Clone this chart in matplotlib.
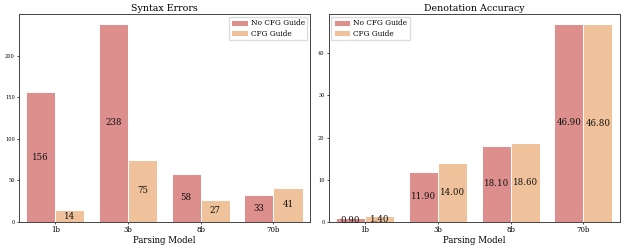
import matplotlib
matplotlib.use("Agg")
import matplotlib.pyplot as plt
import numpy as np

plt.rcParams['font.family'] = 'DejaVu Serif'

# Data
models = ['1b', '3b', '8b', '70b']
series = ['No CFG Guide', 'CFG Guide']
syntax_errors = {
    'No CFG Guide': [156, 238, 58, 33],
    'CFG Guide': [14, 75, 27, 41],
}
accuracy = {
    'No CFG Guide': [0.90, 11.90, 18.10, 46.90],
    'CFG Guide': [1.40, 14.00, 18.60, 46.80],
}
colors = ['#dc8f8c', '#efc29b']

fig, (ax1, ax2) = plt.subplots(1, 2, figsize=(6.26, 2.48), dpi=100)
fig.subplots_adjust(left=0.03, right=0.99, top=0.943, bottom=0.105, wspace=0.065)


def draw(ax, data, title, fmt, legend_loc):
    x = np.arange(len(models))
    w = 0.4
    for i, name in enumerate(series):
        bars = ax.bar(x + (i - 0.5) * w, data[name], w, color=colors[i],
                      edgecolor='white', linewidth=0.7, label=name)
        ax.bar_label(bars, labels=[fmt.format(v) for v in data[name]],
                     label_type='center', fontsize=6.2, color='#111111')
    ax.set_xlim(-0.5, len(models) - 0.5)
    ax.set_xticks(x)
    ax.set_xticklabels(models, fontsize=5)
    ax.tick_params(axis='y', labelsize=3.6)
    ax.tick_params(length=1.5, width=0.5, pad=1.5)
    ax.set_title(title, fontsize=6.8, pad=2.5)
    ax.set_xlabel('Parsing Model', fontsize=6.2, labelpad=1)
    for s in ax.spines.values():
        s.set_color('#444444')
        s.set_linewidth(0.7)
    ax.legend(loc=legend_loc, fontsize=5.3, handlelength=2.2, handleheight=0.9,
              handletextpad=0.4, borderpad=0.35, borderaxespad=0.35,
              labelspacing=0.35, framealpha=1,
              fancybox=False, edgecolor='#dddddd')


draw(ax1, syntax_errors, 'Syntax Errors', '{:d}', 'upper right')
draw(ax2, accuracy, 'Denotation Accuracy', '{:.2f}', 'upper left')

fig.savefig('out.png', dpi=100)
